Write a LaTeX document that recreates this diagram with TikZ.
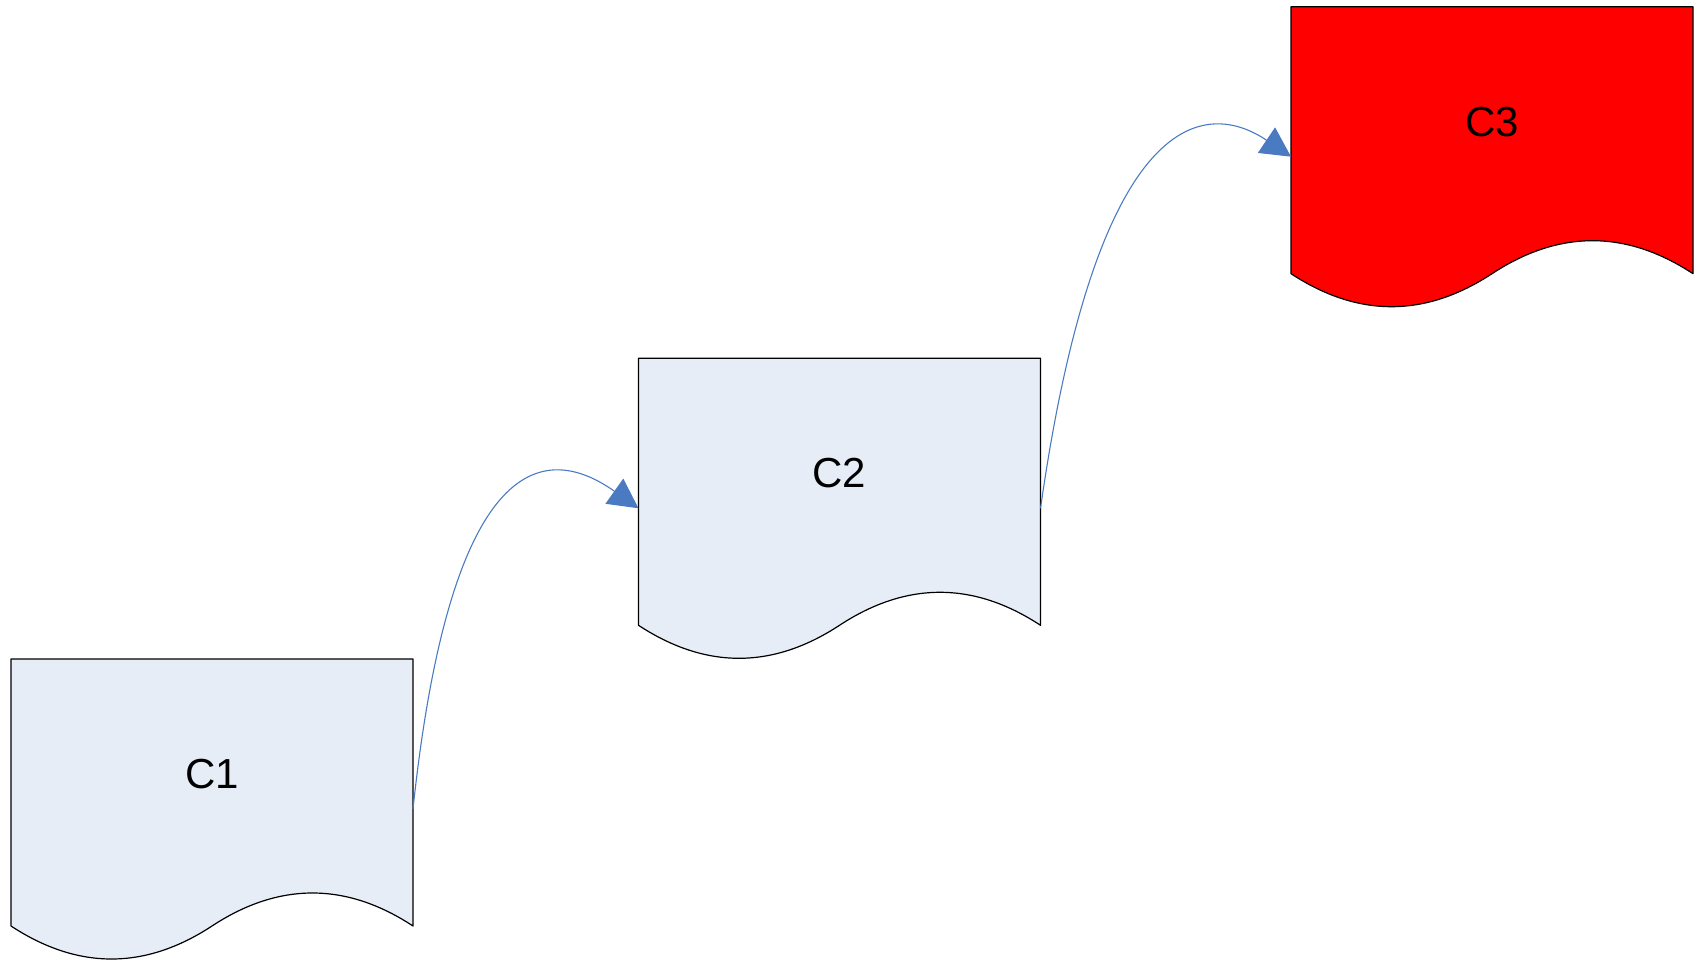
\documentclass[tikz,border=0pt]{standalone}
\usepackage{fontspec}
\setmainfont{Liberation Sans}
\usetikzlibrary{arrows.meta,calc}

\definecolor{docfill}{HTML}{E6EDF7}
\definecolor{hotfill}{HTML}{FF0000}
\definecolor{flowblue}{HTML}{4A7BC2}

% one unit = one pixel, y growing downwards
\tikzset{
  docframe/.style={rectangle, inner sep=0pt, outer sep=0pt,
    minimum width=201pt, minimum height=133.5pt},
  docline/.style={draw=black, line width=0.6pt, line join=round},
  doclabel/.style={inner sep=0pt, font=\fontsize{21}{25}\selectfont},
  flow/.style={draw=flowblue, line width=0.55pt, line join=round,
    -{Triangle[length=14.8pt, width=15.3pt]}, fill=none},
}

% document outline: straight top and sides, wavy bottom edge
\newcommand\docoutline[2]{%
  \path[docline, fill=#2] (#1.north west) -- (#1.north east) -- (#1.south east)
    .. controls +(-67,-44) and +(67,-44) .. (#1.south)
    .. controls +(-67,44) and +(67,44) .. (#1.south west) -- cycle;}

\begin{document}
\begin{tikzpicture}[x=0.5pt, y=-0.5pt]
  \useasboundingbox (0,0) rectangle (1700,961);

  \node[docframe] (c1) at (212,792.5) {};
  \node[docframe] (c2) at (839.5,491.8) {};
  \node[docframe] (c3) at (1492,140.2) {};

  \docoutline{c1}{docfill}
  \docoutline{c2}{docfill}
  \docoutline{c3}{hotfill}

  \node[doclabel] (l1) at ($(c1.north)+(0,115)$) {C1};
  \node[doclabel] (l2) at ($(c2.north)+(0,115)$) {C2};
  \node[doclabel] (l3) at ($(c3.north)+(0,115)$) {C3};

  \coordinate (o1) at ($(c1.east)+(0,16.5)$);
  \coordinate (i2) at ($(c2.west)+(0,16.5)$);
  \coordinate (o2) at ($(c2.east)+(0,16.5)$);
  \coordinate (i3) at ($(c3.west)+(0,16.5)$);

  % the end control point is pulled back together with the arrow tip,
  % so it is given here already offset by the tip length
  \draw[flow] (o1) .. controls +(37,-348) and +(-98.2,-69.6) .. (i2);
  \draw[flow] (o2) .. controls +(57.8,-405.9) and +(-83.4,-56.2) .. (i3);
\end{tikzpicture}
\end{document}
